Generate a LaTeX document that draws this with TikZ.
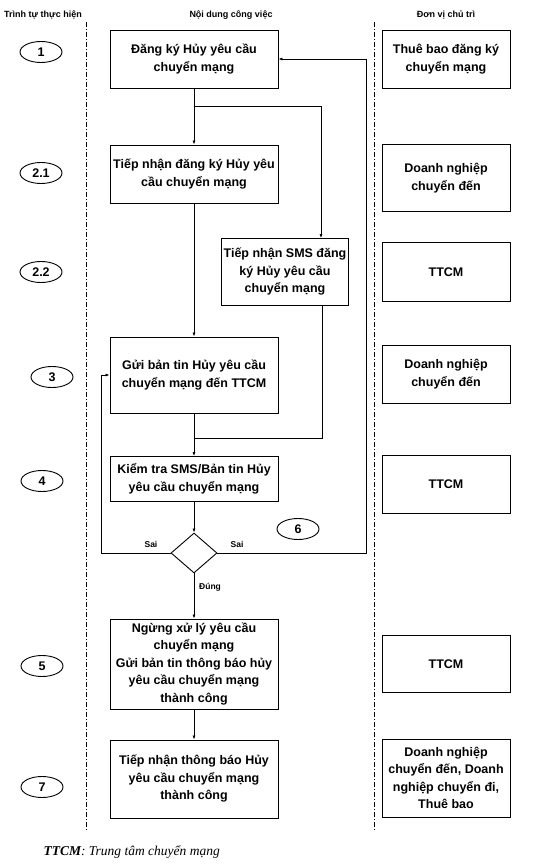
\documentclass[tikz,border=0pt]{standalone}
\usepackage{fontspec}
\setmainfont{Liberation Sans}
\newfontfamily\legendfont{Liberation Serif}
\usetikzlibrary{positioning,shapes.geometric,arrows.meta}

\tikzstyle{stepbox} = [draw, line width=0.9pt, rectangle, align=center,
    inner sep=2pt, font=\fontsize{12.5}{17.5}\selectfont\bfseries]
\tikzstyle{order} = [draw, line width=0.9pt, ellipse, minimum width=42pt,
    minimum height=21pt, inner sep=0pt, font=\fontsize{12.5}{14}\selectfont\bfseries]
\tikzstyle{check} = [draw, line width=0.9pt, diamond, aspect=1.15,
    minimum width=46pt, minimum height=40pt, inner sep=0pt]
\tikzstyle{flow} = [draw, line width=0.7pt, -{Latex[length=4pt,width=3pt]}]
\tikzstyle{lane} = [draw, line width=0.8pt, dash pattern=on 5pt off 2pt on 1pt off 2pt]
\tikzstyle{head} = [font=\fontsize{9}{11}\selectfont\bfseries]
\tikzstyle{note} = [font=\fontsize{8.5}{10}\selectfont\bfseries, inner sep=1pt]

\begin{document}
\begin{tikzpicture}[x=1pt, y=-1pt]
\useasboundingbox (0,0) rectangle (547,864);

% column headers and lanes
\node [head] (head1) at (43,15) {Trình tự thực hiện};
\node [head] (head2) at (231,15) {Nội dung công việc};
\node [head] (head3) at (446,15) {Đơn vị chủ trì};
\draw [lane] (86,22) -- (86,830);
\draw [lane] (374,22) -- (374,830);

% order
\node [order] (o1) at (41,52) {1};
\node [order] (o21) at (41,173) {2.1};
\node [order] (o22) at (41,272) {2.2};
\node [order] (o3) at (52,377) {3};
\node [order] (o4) at (42,481) {4};
\node [order] (o6) at (298,529) {6};
\node [order] (o5) at (42,666) {5};
\node [order] (o7) at (42,787) {7};

% work
\node [stepbox, minimum width=168pt, minimum height=58pt] (s1) at (194,59)
    {Đăng ký Hủy yêu cầu\\chuyển mạng};
\node [stepbox, minimum width=168pt, minimum height=58pt] (s21) at (194,174)
    {Tiếp nhận đăng ký Hủy yêu\\cầu chuyển mạng};
\node [stepbox, minimum width=126pt, minimum height=67pt] (s22) at (285,272)
    {Tiếp nhận SMS đăng\\ký Hủy yêu cầu\\chuyển mạng};
\node [stepbox, minimum width=168pt, minimum height=76pt] (s3) at (194,375)
    {Gửi bản tin Hủy yêu cầu\\chuyển mạng đến TTCM};
\node [stepbox, minimum width=168pt, minimum height=45pt] (s4) at (194,479)
    {Kiểm tra SMS/Bản tin Hủy\\yêu cầu chuyển mạng};
\node [check] (d) at (194,553) {};
\node [stepbox, minimum width=168pt, minimum height=90pt] (s5) at (194,664)
    {Ngừng xử lý yêu cầu\\chuyển mạng\\Gửi bản tin thông báo hủy\\yêu cầu chuyển mạng\\thành công};
\node [stepbox, minimum width=168pt, minimum height=78pt] (s7) at (194,779)
    {Tiếp nhận thông báo Hủy\\yêu cầu chuyển mạng\\thành công};

% units
\node [stepbox, minimum width=128pt, minimum height=58pt] (u1) at (446,59)
    {Thuê bao đăng ký\\chuyển mạng};
\node [stepbox, minimum width=128pt, minimum height=67pt] (u21) at (446,178)
    {Doanh nghiệp\\chuyển đến};
\node [stepbox, minimum width=128pt, minimum height=59pt] (u22) at (446,272) {TTCM};
\node [stepbox, minimum width=128pt, minimum height=58pt] (u3) at (446,374)
    {Doanh nghiệp\\chuyển đến};
\node [stepbox, minimum width=128pt, minimum height=58pt] (u4) at (446,484) {TTCM};
\node [stepbox, minimum width=128pt, minimum height=57pt] (u5) at (446,664) {TTCM};
\node [stepbox, minimum width=128pt, minimum height=78pt] (u7) at (446,778)
    {Doanh nghiệp\\chuyển đến, Doanh\\nghiệp chuyển đi,\\Thuê bao};

% flow
\coordinate (fork) at (194,106);
\coordinate (join) at (194,438);
\draw [flow] (s1) -- (s21);
\draw [flow] (fork) -| ([xshift=36pt]s22.north);
\draw [flow] (s21) -- (s3);
\draw [flow] (s3) -- (s4);
\draw [line width=0.7pt] ([xshift=37pt]s22.south) |- (join);
\draw [flow] (s4) -- (d);
\draw [flow] (d.west) -| ([xshift=-8pt]s3.west) -- (s3.west);
\draw [flow] (d.east) -| ([xshift=88pt]s1.east) -- (s1.east);
\draw [flow] (d) -- (s5);
\draw [flow] (s5) -- (s7);
\node [note, above left=4pt and 12pt of d.west] (no1) {Sai};
\node [note, above right=4pt and 12pt of d.east] (no2) {Sai};
\node [note, below right=9pt and 4pt of d.south] (yes) {Đúng};

% legend
\node [anchor=west, font=\legendfont\itshape\fontsize{13.5}{15}\selectfont] (legend)
    at (40,852) {\textbf{TTCM}: Trung tâm chuyển mạng};
\end{tikzpicture}
\end{document}
